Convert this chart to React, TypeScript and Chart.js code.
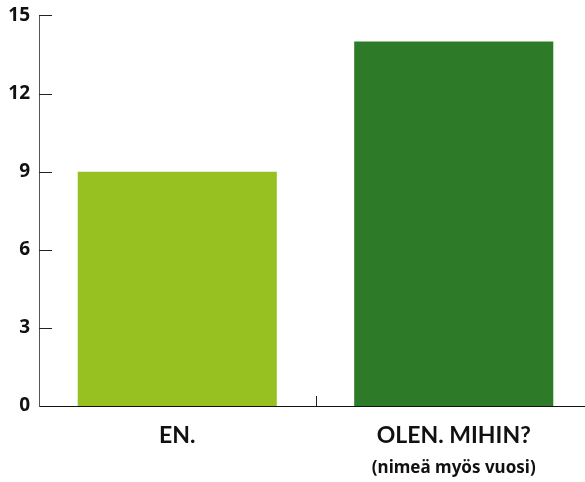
import React, { useEffect, useRef } from "react";
import { Chart, registerables } from "chart.js";

Chart.register(...registerables);

const categories = ["EN.", "OLEN. MIHIN?"];
const subLabels = ["", "(nimeä myös vuosi)"];
const values = [9, 14];
const barColors = ["#96c120", "#2d7a28"];
const yTicks = [0, 3, 6, 9, 12, 15];

const FONT = "Lato, 'Noto Sans', sans-serif";
const BOLD_FONT = "'Noto Sans', sans-serif";

const innerTicks = {
  id: "innerTicks",
  afterDatasetsDraw(chart: any) {
    const { ctx, chartArea, scales } = chart;
    const y = scales.y;
    const x = scales.x;
    ctx.save();
    ctx.lineWidth = 1;
    ctx.strokeStyle = "#222";
    yTicks.forEach((v) => {
      if (v === 0) return;
      const py = Math.round(y.getPixelForValue(v)) + 0.5;
      ctx.beginPath();
      ctx.moveTo(chartArea.left, py);
      ctx.lineTo(chartArea.left + 13, py);
      ctx.stroke();
    });
    for (let i = 0; i < categories.length - 1; i++) {
      const px = Math.round((x.getPixelForTick(i) + x.getPixelForTick(i + 1)) / 2) + 0.5;
      ctx.beginPath();
      ctx.moveTo(px, chartArea.bottom);
      ctx.lineTo(px, chartArea.bottom - 10);
      ctx.stroke();
    }
    ctx.fillStyle = "#111";
    ctx.font = `bold 17px ${BOLD_FONT}`;
    ctx.textAlign = "center";
    ctx.textBaseline = "alphabetic";
    subLabels.forEach((s, i) => {
      if (!s) return;
      ctx.fillText(s, x.getPixelForTick(i), chartArea.bottom + 67);
    });
    ctx.restore();
  },
};

export default function App() {
  const ref = useRef<HTMLCanvasElement>(null);
  useEffect(() => {
    if (!ref.current) return;
    const chart = new Chart(ref.current, {
      type: "bar",
      data: {
        labels: categories,
        datasets: [
          {
            data: values,
            backgroundColor: barColors,
            borderWidth: 0,
            barPercentage: 0.72,
            categoryPercentage: 1,
          },
        ],
      },
      options: {
        animation: false,
        responsive: false,
        maintainAspectRatio: false,
        layout: { padding: 0 },
        plugins: { legend: { display: false }, tooltip: { enabled: false } },
        scales: {
          x: {
            grid: { display: false, drawTicks: false },
            border: { display: true, color: "#111", width: 1 },
            ticks: {
              color: "#111",
              font: { family: FONT, size: 23, weight: "bold" },
              padding: 16,
              maxRotation: 0,
            },
            afterFit: (s: any) => {
              s.height = 76;
            },
          },
          y: {
            min: 0,
            max: 15,
            afterBuildTicks: (s: any) => {
              s.ticks = yTicks.map((v) => ({ value: v }));
            },
            grid: { display: false, drawTicks: false },
            border: { display: true, color: "#555", width: 1 },
            ticks: {
              color: "#111",
              font: { family: BOLD_FONT, size: 19, weight: "bold" },
              padding: 9,
            },
            afterFit: (s: any) => {
              s.width = 39;
            },
          },
        },
      },
      plugins: [innerTicks],
    });
    return () => chart.destroy();
  }, []);
  return (
    <div style={{ position: "fixed", left: 0, top: 0, width: 585, height: 482, overflow: "hidden", background: "#fff" }}>
      <canvas
        ref={ref}
        width={592}
        height={487}
        style={{ position: "absolute", left: 0, top: -5, width: 592, height: 487, display: "block" }}
      />
    </div>
  );
}
